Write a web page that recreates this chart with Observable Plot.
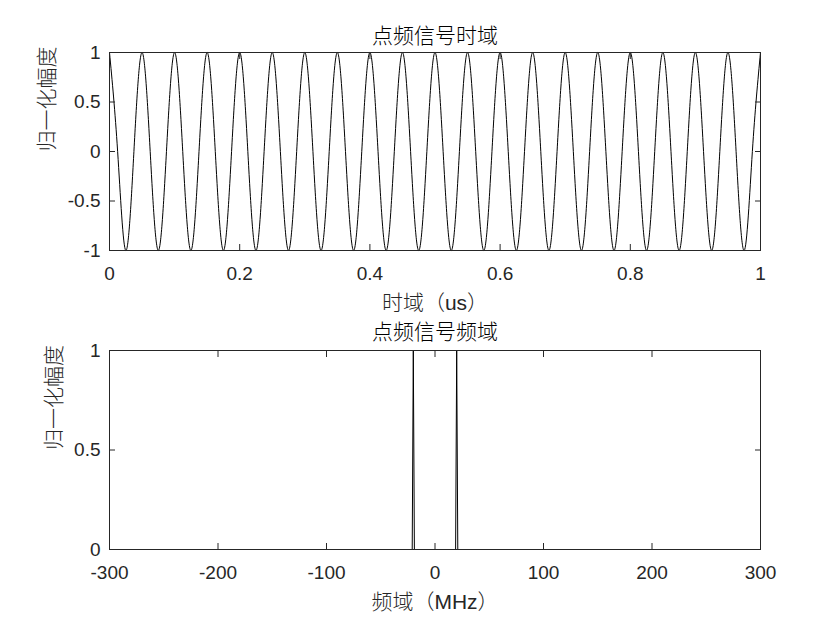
<!DOCTYPE html>
<html><head><meta charset="utf-8">
<script src="https://cdn.jsdelivr.net/npm/d3@7"></script>
<script src="https://cdn.jsdelivr.net/npm/@observablehq/plot@0.6"></script>
<style>
body{margin:0;background:#fff}
#c{width:840px;height:630px;position:relative}
#c svg{display:block}
</style>
</head><body><div id="c"></div>
<script>
// Time-domain samples (peaks, zero crossings, troughs), in µs
const timeUs = [
  0,0.0125,0.025,0.0375,0.05,0.0625,0.075,0.0875,
  0.1,0.1125,0.125,0.1375,0.15,0.1625,0.175,0.1875,
  0.2,0.2125,0.225,0.2375,0.25,0.2625,0.275,0.2875,
  0.3,0.3125,0.325,0.3375,0.35,0.3625,0.375,0.3875,
  0.4,0.4125,0.425,0.4375,0.45,0.4625,0.475,0.4875,
  0.5,0.5125,0.525,0.5375,0.55,0.5625,0.575,0.5875,
  0.6,0.6125,0.625,0.6375,0.65,0.6625,0.675,0.6875,
  0.7,0.7125,0.725,0.7375,0.75,0.7625,0.775,0.7875,
  0.8,0.8125,0.825,0.8375,0.85,0.8625,0.875,0.8875,
  0.9,0.9125,0.925,0.9375,0.95,0.9625,0.975,0.9875,
  1
];
const timeAmp = [
  1,0,-1,0, 1,0,-1,0, 1,0,-1,0, 1,0,-1,0, 1,0,-1,0,
  1,0,-1,0, 1,0,-1,0, 1,0,-1,0, 1,0,-1,0, 1,0,-1,0,
  1,0,-1,0, 1,0,-1,0, 1,0,-1,0, 1,0,-1,0, 1,0,-1,0,
  1,0,-1,0, 1,0,-1,0, 1,0,-1,0, 1,0,-1,0, 1,0,-1,0,
  1
];
// Spectrum (normalized), MHz
const freqMHz = [-300,-21,-20,-19,19,20,21,300];
const freqAmp = [0,0,1,0,0,1,0,0];

const timeTicks = [0,0.2,0.4,0.6,0.8,1];
const timeTickLabels = ["0","0.2","0.4","0.6","0.8","1"];
const ampTicks = [-1,-0.5,0,0.5,1];
const ampTickLabels = ["-1","-0.5","0","0.5","1"];
const freqTicks = [-300,-200,-100,0,100,200,300];
const freqTickLabels = ["-300","-200","-100","0","100","200","300"];
const magTicks = [0,0.5,1];
const magTickLabels = ["0","0.5","1"];

const titles = ["点频信号时域","点频信号频域"];
const xLabels = ["时域（us）","频域（MHz）"];
const yLabel = "归一化幅度";

const FONT = "'Liberation Sans', Arial, 'Noto Sans CJK SC', sans-serif";
const AX = "#262626";
const CJK = {fontSize:21, fontWeight:300, lineAnchor:"middle"};

function boxAxes(xt, xl, yt, yl) {
  return [
    Plot.axisX(xt, {anchor:"bottom", tickSize:0, tickPadding:16, tickFormat:(d,i)=>xl[i], fontSize:19, fill:AX, label:null}),
    Plot.axisY(yt, {anchor:"left", tickSize:0, tickPadding:9, tickFormat:(d,i)=>yl[i], fontSize:19, fill:AX, label:null}),
    Plot.axisX(xt, {anchor:"bottom", tickSize:-6, tickFormat:()=>"" , stroke:AX, label:null}),
    Plot.axisX(xt, {anchor:"top", tickSize:-6, tickFormat:()=>"" , stroke:AX, label:null}),
    Plot.axisY(yt, {anchor:"left", tickSize:-6, tickFormat:()=>"" , stroke:AX, label:null}),
    Plot.axisY(yt, {anchor:"right", tickSize:-6, tickFormat:()=>"" , stroke:AX, label:null}),
    Plot.frame({stroke:AX, strokeWidth:1})
  ];
}

const timeData = timeUs.map((t,i)=>({t, a: timeAmp[i]}));
const freqData = freqMHz.map((f,i)=>({f, a: freqAmp[i]}));

const topChart = Plot.plot({
  width:840, height:315,
  marginLeft:109, marginRight:80, marginTop:52, marginBottom:65,
  style:{fontFamily:FONT, background:"#fff", overflow:"visible"},
  x:{domain:[0,1]},
  y:{domain:[-1,1]},
  marks:[
    Plot.line(timeData, {x:"t", y:"a", curve:"natural", stroke:"#000", strokeWidth:1}),
    ...boxAxes(timeTicks, timeTickLabels, ampTicks, ampTickLabels),
    Plot.text([titles[0]], {text:d=>d, frameAnchor:"top", dy:-16, ...CJK, fill:"#000"}),
    Plot.text([xLabels[0]], {text:d=>d, frameAnchor:"bottom", dy:53, ...CJK, fill:AX}),
    Plot.text([yLabel], {text:d=>d, frameAnchor:"left", dx:-62, rotate:-90, ...CJK, fill:AX})
  ]
});

const bottomChart = Plot.plot({
  width:840, height:315,
  marginLeft:109, marginRight:80, marginTop:35, marginBottom:81,
  style:{fontFamily:FONT, background:"#fff", overflow:"visible"},
  x:{domain:[-300,300]},
  y:{domain:[0,1]},
  marks:[
    Plot.line(freqData, {x:"f", y:"a", stroke:"#000", strokeWidth:1}),
    ...boxAxes(freqTicks, freqTickLabels, magTicks, magTickLabels),
    Plot.text([titles[1]], {text:d=>d, frameAnchor:"top", dy:-18, ...CJK, fill:"#000"}),
    Plot.text([xLabels[1]], {text:d=>d, frameAnchor:"bottom", dy:53, ...CJK, fill:AX}),
    Plot.text([yLabel], {text:d=>d, frameAnchor:"left", dx:-55, rotate:-90, ...CJK, fill:AX})
  ]
});

document.getElementById("c").append(topChart, bottomChart);
</script>
</body></html>
